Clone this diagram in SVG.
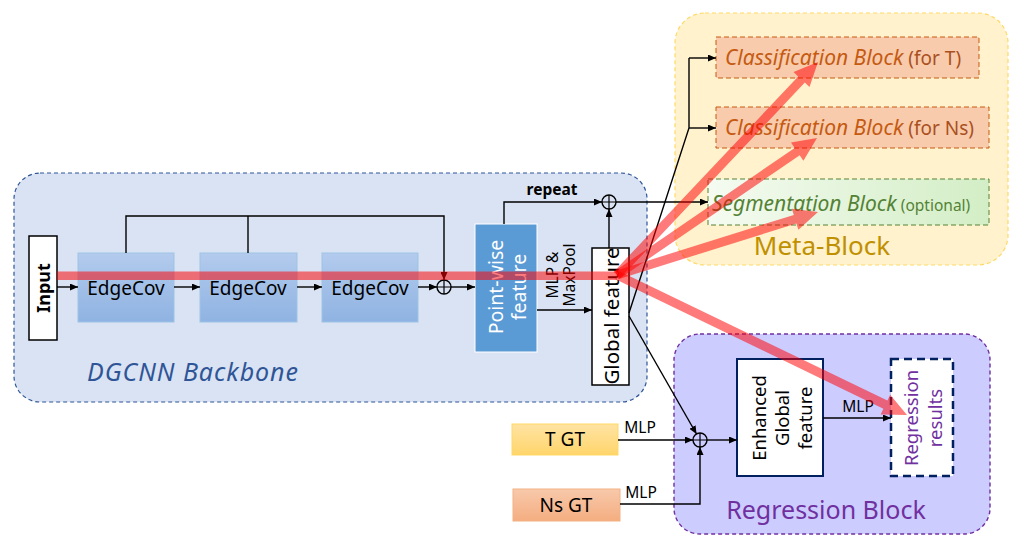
<svg xmlns="http://www.w3.org/2000/svg" width="1025" height="551" viewBox="0 0 1025 551">
<defs>
<style>
text{font-family:"Noto Sans","DejaVu Sans",sans-serif;}
.ln{fill:none;stroke:#000;stroke-width:1.4;}
.arr{marker-end:url(#ah);}
.oplus circle{fill:none;stroke:#000;stroke-width:1.4;}
.oplus path{stroke:#000;stroke-width:1.2;}
.red{fill:#ff0000;fill-opacity:0.52;}
.lbl{font-size:15.5px;fill:#000;}
</style>
<marker id="ah" markerWidth="8" markerHeight="7" refX="8" refY="3.5" orient="auto" markerUnits="userSpaceOnUse">
<path d="M0,0 L8,3.5 L0,7 z" fill="#000"/>
</marker>
<linearGradient id="gEdge" x1="0" y1="0" x2="0" y2="1">
<stop offset="0" stop-color="#b3cbed"/>
<stop offset="1" stop-color="#8fb3e2"/>
</linearGradient>
<linearGradient id="gT" x1="0" y1="0" x2="0" y2="1">
<stop offset="0" stop-color="#ffe3a3"/>
<stop offset="1" stop-color="#ffd56b"/>
</linearGradient>
<linearGradient id="gNs" x1="0" y1="0" x2="0" y2="1">
<stop offset="0" stop-color="#f8c9ab"/>
<stop offset="1" stop-color="#f4ad80"/>
</linearGradient>
<linearGradient id="gSeg" x1="0" y1="0" x2="1" y2="0">
<stop offset="0" stop-color="#f5fbf1"/>
<stop offset="1" stop-color="#d3eec6"/>
</linearGradient>
</defs>
<rect width="1025" height="551" fill="#fff"/>

<g id="dgcnn-backbone">
<rect x="14" y="173" width="633" height="229" rx="26" fill="#dae3f3" stroke="#2f5597" stroke-width="1.2" stroke-dasharray="4,3"/>
<text x="87" y="381" font-size="25" font-style="italic" fill="#2f5597" textLength="211" lengthAdjust="spacing">DGCNN Backbone</text>
</g>
<g id="meta-block">
<rect x="675" y="13" width="333" height="252" rx="30" fill="#fff2cc" stroke="#ffd966" stroke-width="1.2" stroke-dasharray="4,3"/>
<text x="822" y="255" font-size="26" fill="#bf9000" text-anchor="middle">Meta-Block</text>
</g>
<g id="regression-block">
<rect x="674" y="334" width="316" height="200" rx="26" fill="#ccccff" stroke="#7030a0" stroke-width="1.4" stroke-dasharray="4,3"/>
<text x="826" y="519" font-size="25" fill="#7030a0" text-anchor="middle">Regression Block</text>
</g>

<g id="input">
<rect x="29" y="236" width="28" height="104" fill="#fff" stroke="#000" stroke-width="1.5"/>
<text transform="translate(43,288) rotate(-90)" font-size="18" font-weight="bold" text-anchor="middle" dominant-baseline="central">Input</text>
</g>
<g id="edgecov1">
<rect x="78" y="253" width="96" height="69" fill="url(#gEdge)" stroke="#9dc3e6" stroke-width="1"/>
<text x="126" y="295" font-size="19" text-anchor="middle">EdgeCov</text>
</g>
<g id="edgecov2">
<rect x="200" y="253" width="97" height="69" fill="url(#gEdge)" stroke="#9dc3e6" stroke-width="1"/>
<text x="248" y="295" font-size="19" text-anchor="middle">EdgeCov</text>
</g>
<g id="edgecov3">
<rect x="322" y="253" width="96" height="69" fill="url(#gEdge)" stroke="#9dc3e6" stroke-width="1"/>
<text x="370" y="295" font-size="19" text-anchor="middle">EdgeCov</text>
</g>
<g id="pointwise-feature">
<rect x="475" y="224" width="62" height="128" fill="#5b9bd5" stroke="#fff" stroke-width="1"/>
<text transform="translate(495,287) rotate(-90)" font-size="19.5" fill="#fff" text-anchor="middle" dominant-baseline="central">Point-wise</text>
<text transform="translate(518,287) rotate(-90)" font-size="19.5" fill="#fff" text-anchor="middle" dominant-baseline="central">feature</text>
</g>
<g id="global-feature">
<rect x="592" y="248" width="37" height="137" fill="#fff" stroke="#000" stroke-width="1.5"/>
<text transform="translate(611,316) rotate(-90)" font-size="20.5" text-anchor="middle" dominant-baseline="central">Global feature</text>
</g>
<g id="cls-t">
<rect x="716" y="37" width="263" height="41" fill="#f8cbad" stroke="#c55a11" stroke-width="1" stroke-dasharray="5,3"/>
<text x="725" y="65" font-size="21" fill="#c55a11"><tspan font-style="italic">Classification Block</tspan><tspan font-size="19" fill="#a9501e"> (for T)</tspan></text>
</g>
<g id="cls-ns">
<rect x="716" y="107" width="273" height="41" fill="#f8cbad" stroke="#c55a11" stroke-width="1" stroke-dasharray="5,3"/>
<text x="725" y="135" font-size="21" fill="#c55a11"><tspan font-style="italic">Classification Block</tspan><tspan font-size="19" fill="#a9501e"> (for Ns)</tspan></text>
</g>
<g id="seg">
<rect x="708" y="179" width="281" height="46" fill="url(#gSeg)" stroke="#548235" stroke-width="1" stroke-dasharray="5,3"/>
<text x="712" y="211" font-size="21" fill="#548235"><tspan font-style="italic">Segmentation Block</tspan><tspan font-size="15.5"> (optional)</tspan></text>
</g>
<g id="t-gt">
<rect x="512" y="424" width="106" height="31" fill="url(#gT)" stroke="#ffd966" stroke-width="1"/>
<text x="565" y="446" font-size="19" text-anchor="middle">T GT</text>
</g>
<g id="ns-gt">
<rect x="513" y="489" width="107" height="32" fill="url(#gNs)" stroke="#f4b183" stroke-width="1"/>
<text x="566" y="512" font-size="19" text-anchor="middle">Ns GT</text>
</g>
<g id="enhanced-global-feature">
<rect x="737" y="359" width="86" height="117" fill="#fff" stroke="#002060" stroke-width="2"/>
<text transform="translate(758,418) rotate(-90)" font-size="18.5" text-anchor="middle" dominant-baseline="central">Enhanced</text>
<text transform="translate(781,418) rotate(-90)" font-size="18.5" text-anchor="middle" dominant-baseline="central">Global</text>
<text transform="translate(804,418) rotate(-90)" font-size="18.5" text-anchor="middle" dominant-baseline="central">feature</text>
</g>
<g id="regression-results">
<rect x="891" y="359" width="62" height="117" fill="#fff" stroke="#002060" stroke-width="2.5" stroke-dasharray="8,5"/>
<text transform="translate(910,418) rotate(-90)" font-size="18.5" fill="#7030a0" text-anchor="middle" dominant-baseline="central">Regression</text>
<text transform="translate(934,418) rotate(-90)" font-size="18.5" fill="#7030a0" text-anchor="middle" dominant-baseline="central">results</text>
</g>

<g id="oplus-nodes">
<g id="oplus1" class="oplus"><circle cx="444" cy="287" r="7"/><path d="M437,287 H451 M444,280 V294"/></g>
<g id="oplus2" class="oplus"><circle cx="609" cy="202" r="7"/><path d="M602,202 H616 M609,195 V209"/></g>
<g id="oplus3" class="oplus"><circle cx="700" cy="440" r="7"/><path d="M693,440 H707 M700,433 V447"/></g>
</g>

<g id="connectors">
<line class="ln arr" x1="57" y1="287" x2="78" y2="287"/>
<line class="ln arr" x1="174" y1="287" x2="200" y2="287"/>
<line class="ln arr" x1="297" y1="287" x2="322" y2="287"/>
<line class="ln arr" x1="418" y1="287" x2="437" y2="287"/>
<line class="ln arr" x1="451" y1="287" x2="475" y2="287"/>
<polyline class="ln arr" points="126,253 126,216 444,216 444,280"/>
<line class="ln" x1="248" y1="253" x2="248" y2="216"/>
<line class="ln arr" x1="537" y1="310" x2="592" y2="310"/>
<polyline class="ln arr" points="504,224 504,202 602,202"/>
<line class="ln arr" x1="609" y1="248" x2="609" y2="209"/>
<line class="ln arr" x1="616" y1="202" x2="708" y2="202"/>
<polyline class="ln" points="629,313 689,128 689,58"/>
<line class="ln arr" x1="689" y1="58" x2="716" y2="58"/>
<line class="ln arr" x1="689" y1="128" x2="716" y2="128"/>
<line class="ln arr" x1="629" y1="316" x2="696.5" y2="434"/>
<line class="ln arr" x1="618" y1="440" x2="693" y2="440"/>
<polyline class="ln arr" points="620,504 700,504 700,447"/>
<line class="ln arr" x1="707" y1="440" x2="737" y2="440"/>
<line class="ln arr" x1="823" y1="418" x2="891" y2="418"/>
<text class="lbl" x="552" y="195" text-anchor="middle" font-weight="bold" font-size="15">repeat</text>
<text class="lbl" transform="translate(552,275) rotate(-90)" font-size="14" text-anchor="middle" dominant-baseline="central">MLP &amp;</text>
<text class="lbl" transform="translate(569,275) rotate(-90)" font-size="14" text-anchor="middle" dominant-baseline="central">MaxPool</text>
<text class="lbl" x="640" y="433" text-anchor="middle">MLP</text>
<text class="lbl" x="641" y="498" text-anchor="middle">MLP</text>
<text class="lbl" x="858" y="412" text-anchor="middle">MLP</text>
</g>

<g id="red-flow">
<rect class="red" x="57" y="271.5" width="560" height="8.5"/>
<polygon class="red" points="613.7,271.9 798.2,76.4 793.5,72.0 818,62 809.5,87.0 804.8,82.6 620.3,278.1"/>
<polygon class="red" points="614.5,271.3 794.7,147.9 791.0,142.5 817,138 803.4,160.7 799.7,155.3 619.5,278.7"/>
<polygon class="red" points="615.7,270.7 793.8,214.9 791.8,208.7 818,212 798.4,229.7 796.4,223.5 618.3,279.3"/>
<polygon class="red" points="619.0,270.9 887.4,400.5 890.2,394.7 907,415 880.6,414.5 883.4,408.7 615.0,279.1"/>
</g>
</svg>
